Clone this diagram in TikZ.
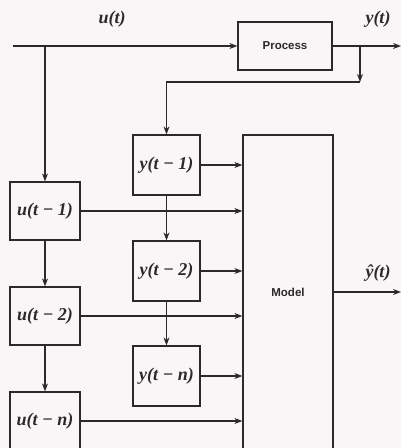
\documentclass[tikz,border=0pt]{standalone}
\usepackage{fontspec}
\setmainfont{Liberation Serif}
\newfontfamily\labelsans{Liberation Sans}
\usetikzlibrary{arrows.meta}
\definecolor{paper}{RGB}{250,245,246}
\definecolor{ink}{RGB}{45,40,42}
\begin{document}
\begin{tikzpicture}[x=1pt,y=-1pt,
  wire/.style={draw=ink, line width=1.2pt},
  arr/.style={wire, -{Stealth[length=8pt,width=6pt]}},
  box/.style={draw=ink, line width=1.2pt, inner sep=0pt, text=ink,
    font=\bfseries\itshape\fontsize{18}{18}\selectfont},
  ybox/.style={box, minimum width=67pt, minimum height=60pt},
  ubox/.style={box, minimum width=70pt, minimum height=58pt},
  sysbox/.style={draw=ink, line width=1.2pt, inner sep=0pt, text=ink,
    font=\labelsans\bfseries\fontsize{11.5}{11.5}\selectfont},
  sig/.style={text=ink, font=\bfseries\itshape\fontsize{18}{18}\selectfont}]
\useasboundingbox (0,0) rectangle (401,448);
\fill[paper] (0,0) rectangle (401,448);
\clip (0,0) rectangle (401,448);

% process
\node[sysbox, minimum width=94pt, minimum height=48pt] (proc) at (285,46) {Process};
% model
\node[sysbox, minimum width=90pt, minimum height=314pt] (model) at (288,292) {Model};

% delay boxes
\node[ybox] (y1) at (166.5,165) {y(t − 1)};
\node[ybox] (y2) at (166.5,271) {y(t − 2)};
\node[ybox] (yn) at (166.5,376) {y(t − n)};
\node[ubox] (u1) at (45,211) {u(t − 1)};
\node[ubox] (u2) at (45,316) {u(t − 2)};
\node[ubox] (un) at (45,421) {u(t − n)};

% coordinates
\coordinate (in) at (13,46);
\coordinate (out) at (401,46);
\coordinate (fb) at (360,46);
\coordinate (fbc) at (360,82);
\coordinate (mout) at (401,292);

% signal labels
\node[sig] (ulbl) at (112,19) {u(t)};
\node[sig] (ylbl) at (378,19) {y(t)};
\node[sig] (yhlbl) at (378,273) {ŷ(t)};

% main path
\draw[arr] (in) -- (proc.west);
\draw[arr] (proc.east) -- (out);
\draw[arr] (u1.north |- in) -- (u1.north);
\draw[arr] (fb) -- (fbc);
\draw[arr] (fbc) -| (y1.north);

% delay chains
\draw[arr] (u1.south) -- (u2.north);
\draw[arr] (u2.south) -- (un.north);
\draw[arr] (y1.south) -- (y2.north);
\draw[arr] (y2.south) -- (yn.north);

% into model
\foreach \b in {y1,u1,y2,u2,yn,un}
  \draw[arr] (\b.east) -- (\b.east -| model.west);

% model output
\draw[arr] (model.east) -- (mout);
\end{tikzpicture}
\end{document}
